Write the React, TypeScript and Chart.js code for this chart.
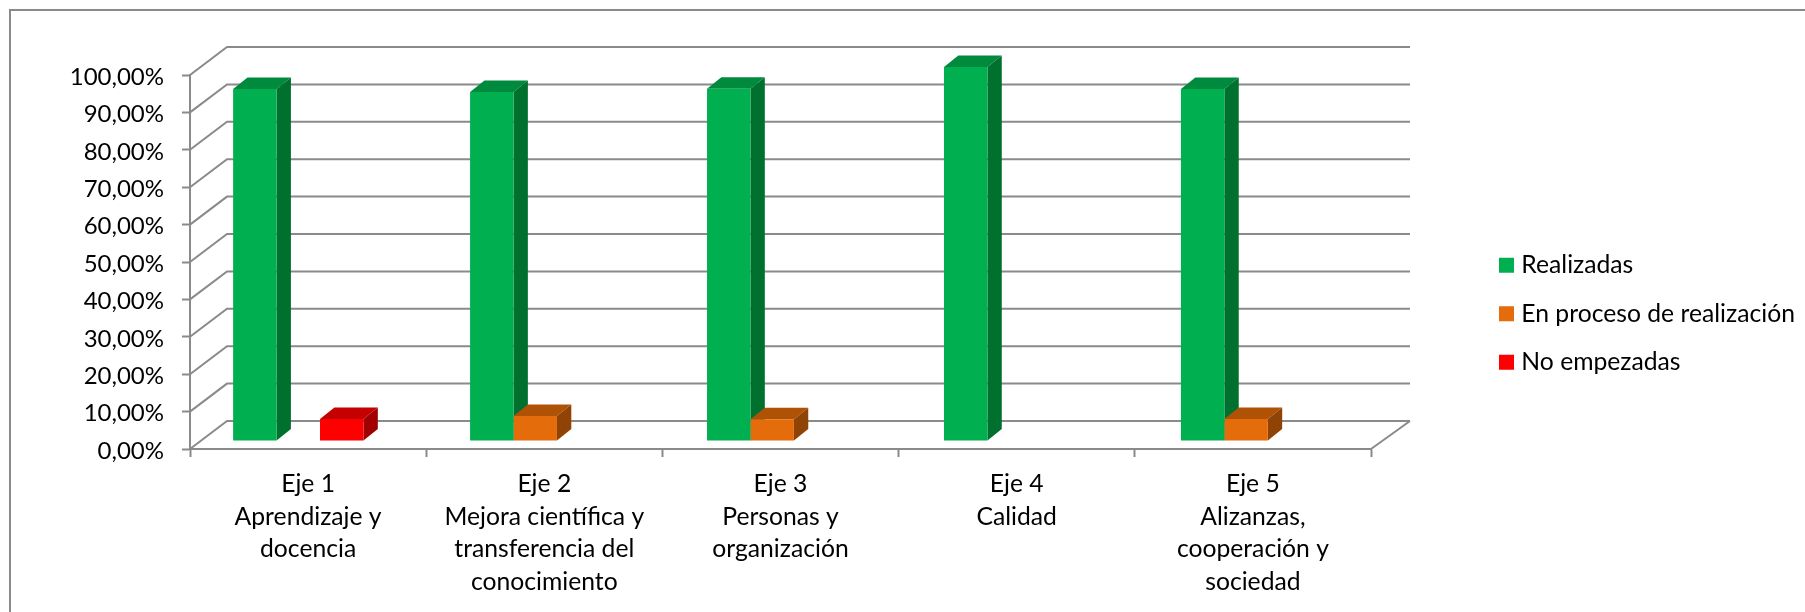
import React, { useEffect, useRef } from "react";
import { Chart, registerables } from "chart.js";

Chart.register(...registerables);

const categories = [
  ["Eje 1", "Aprendizaje y", "docencia"],
  ["Eje 2", "Mejora científica y", "transferencia del", "conocimiento"],
  ["Eje 3", "Personas y", "organización"],
  ["Eje 4", "Calidad"],
  ["Eje 5", "Alizanzas,", "cooperación y", "sociedad"],
];
const realizadas = [94.12, 93.33, 94.2, 100, 94.12];
const enProceso = [null, 6.67, 5.8, null, 5.88];
const noEmpezadas = [5.88, null, null, null, null];

const seriesStyles = [
  { label: "Realizadas", front: "#00B050", top: "#008A3E", side: "#00702F" },
  { label: "En proceso de realización", front: "#E46C0A", top: "#AF5206", side: "#8F4405" },
  { label: "No empezadas", front: "#FF0000", top: "#C40000", side: "#A00000" },
];
const seriesValues = [realizadas, enProceso, noEmpezadas];

const GREY = "#8A8A8A";
const FONT = "Lato, Carlito, Calibri, sans-serif";
const depth = { dx: 37, dy: 28, barDx: 14.3, barDy: 11.5, shiftX: -10.8, shiftY: -8, scaleX: 1.0032 };

const walls3D = {
  id: "walls3D",
  beforeDraw(chart: any) {
    const { ctx, width, height } = chart;
    ctx.save();
    ctx.strokeStyle = GREY;
    ctx.lineWidth = 2;
    ctx.beginPath();
    ctx.moveTo(width, 10);
    ctx.lineTo(10, 10);
    ctx.lineTo(10, height);
    ctx.stroke();
    ctx.restore();
  },
  beforeDatasetsDraw(chart: any) {
    const { ctx, scales, chartArea } = chart;
    const y = scales.y;
    const left = chartArea.left;
    const right = chartArea.right;
    ctx.save();
    ctx.strokeStyle = GREY;
    ctx.lineWidth = 2;
    y.ticks.forEach((t: any) => {
      const py = y.getPixelForValue(t.value);
      ctx.beginPath();
      ctx.moveTo(left, py);
      ctx.lineTo(left + depth.dx, py - depth.dy);
      ctx.lineTo(right + depth.dx + 2, py - depth.dy);
      ctx.stroke();
    });
    const base = y.getPixelForValue(0);
    ctx.beginPath();
    ctx.moveTo(right, base);
    ctx.lineTo(right + depth.dx + 2, base - depth.dy);
    ctx.stroke();
    ctx.restore();

    // Bars stand mid-way through the floor's depth
    ctx.save();
    ctx.translate(depth.shiftX, depth.shiftY);
    ctx.scale(depth.scaleX, 1);
    chart.data.datasets.forEach((_: any, i: number) => {
      const meta = chart.getDatasetMeta(i);
      const style = seriesStyles[i];
      meta.data.forEach((bar: any, j: number) => {
        if (chart.data.datasets[i].data[j] == null) return;
        const { x, y: top, base: bottom, width: w } = bar.getProps(["x", "y", "base", "width"], true);
        const l = x - w / 2;
        const r = x + w / 2;
        ctx.fillStyle = style.top;
        ctx.beginPath();
        ctx.moveTo(l, top);
        ctx.lineTo(l + depth.barDx, top - depth.barDy);
        ctx.lineTo(r + depth.barDx, top - depth.barDy);
        ctx.lineTo(r, top);
        ctx.closePath();
        ctx.fill();
        ctx.fillStyle = style.side;
        ctx.beginPath();
        ctx.moveTo(r, top);
        ctx.lineTo(r + depth.barDx, top - depth.barDy);
        ctx.lineTo(r + depth.barDx, bottom - depth.barDy);
        ctx.lineTo(r, bottom);
        ctx.closePath();
        ctx.fill();
      });
    });
  },
  afterDatasetsDraw(chart: any) {
    chart.ctx.restore();
  },
  afterLayout(chart: any) {
    const legend = chart.legend;
    if (!legend) return;
    const padding = legend.options.labels.padding;
    legend.left = 1504 - padding;
    legend.right = chart.width;
    legend.top = 253 - padding;
    legend.bottom = chart.height;
  },
};

export default function App() {
  const ref = useRef<HTMLCanvasElement | null>(null);
  useEffect(() => {
    const chart = new Chart(ref.current as HTMLCanvasElement, {
      type: "bar",
      data: {
        labels: categories,
        datasets: seriesStyles.map((s, i) => ({
          label: s.label,
          data: seriesValues[i],
          backgroundColor: s.front,
          borderWidth: 0,
          categoryPercentage: 0.55,
          barPercentage: 1,
        })),
      } as any,
      plugins: [walls3D],
      options: {
        animation: false,
        responsive: false,
        layout: { padding: { top: 75, right: 433, bottom: 0, left: 0 } },
        plugins: {
          tooltip: { enabled: false },
          title: { display: false },
          legend: {
            position: "right",
            align: "start",
            maxWidth: 1,
            labels: {
              boxWidth: 5,
              boxHeight: 5,
              padding: 23.8,
              color: "#000000",
              font: { family: FONT, size: 24.7, lineHeight: 1 },
              generateLabels(chart: any) {
                return Chart.defaults.plugins.legend.labels
                  .generateLabels(chart)
                  .map((item: any) => ({ ...item, strokeStyle: item.fillStyle, lineWidth: 10 }));
              },
            },
          },
        },
        scales: {
          x: {
            grid: {
              offset: true,
              drawOnChartArea: false,
              drawTicks: true,
              tickLength: 8,
              tickWidth: 2,
              color: GREY,
            },
            border: { color: GREY, width: 2 },
            ticks: {
              color: "#000000",
              padding: 11,
              maxRotation: 0,
              autoSkip: false,
              font: { family: FONT, size: 24.7, lineHeight: 1.32 },
            },
            afterFit(scale: any) {
              scale.height = 163;
            },
          },
          y: {
            min: 0,
            max: 100,
            grid: {
              drawOnChartArea: false,
              drawTicks: true,
              tickLength: 8,
              tickWidth: 2,
              color: GREY,
            },
            border: { color: GREY, width: 2 },
            ticks: {
              stepSize: 10,
              color: "#000000",
              padding: 18,
              labelOffset: 2,
              font: { family: FONT, size: 24 },
              callback: (v: any) => Number(v).toFixed(2).replace(".", ",") + "%",
            },
            afterFit(scale: any) {
              scale.width = 190;
            },
          },
        },
      },
    } as any);
    return () => chart.destroy();
  }, []);
  return (
    <canvas
      ref={ref}
      width={1805}
      height={612}
      style={{ position: "absolute", left: 0, top: 0, display: "block" }}
    />
  );
}
